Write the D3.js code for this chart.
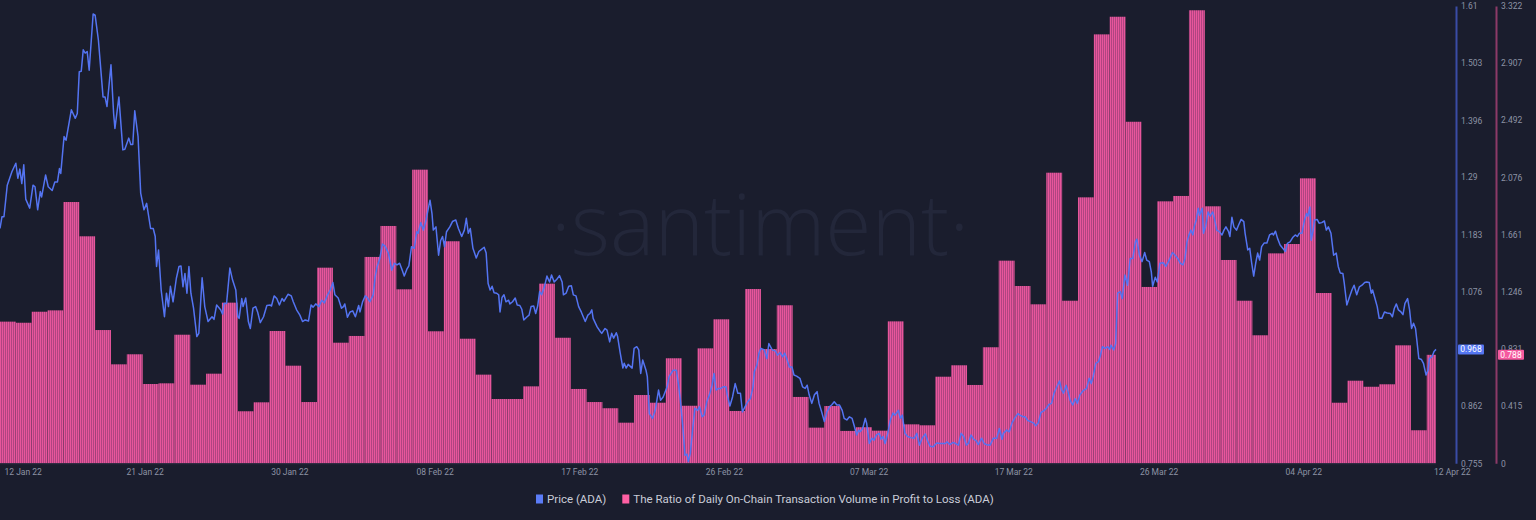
<!DOCTYPE html>
<html><head><meta charset="utf-8">
<script src="https://cdn.jsdelivr.net/npm/d3@7"></script>
<style>
html,body{margin:0;padding:0;background:#1a1d2d;}
svg{display:block;}
</style></head>
<body>
<svg id="chart" width="1536" height="520"></svg>
<script>
// ---------- DATA ----------
const startUTC = Date.UTC(2022, 0, 12, 0, 0);
const endHour = 2174;               // last data point (12 Apr 22, ~14:00)
// Daily ratio of on-chain transaction volume in profit to loss (one per day from 12 Jan 22)
const ratioValues = [
  1.029, 1.021, 1.101, 1.111, 1.898, 1.649, 0.968, 0.719, 0.792, 0.576,
  0.581, 0.934, 0.571, 0.651, 1.167, 0.378, 0.443, 0.961, 0.709, 0.445,
  1.421, 0.876, 0.925, 1.499, 1.724, 1.264, 2.133, 0.959, 1.613, 0.905,
  0.644, 0.467, 0.467, 0.559, 1.305, 0.912, 0.540, 0.445, 0.400, 0.295,
  0.496, 0.440, 0.763, 0.418, 0.835, 1.046, 0.380, 1.266, 0.830, 1.148,
  0.482, 0.259, 0.416, 0.235, 0.262, 0.237, 1.031, 0.283, 0.276, 0.629,
  0.712, 0.569, 0.843, 1.472, 1.288, 1.155, 2.111, 1.181, 1.932, 3.116,
  3.244, 2.481, 1.281, 1.903, 1.942, 3.291, 1.867, 1.477, 1.181, 0.930,
  1.525, 1.593, 2.070, 1.237, 0.440, 0.600, 0.556, 0.574, 0.857, 0.240,
  0.788
];
// Price (ADA): hours since 12 Jan 22 00:00 UTC, and value
const priceHours = [
  0,3,6,11,18,24,27,30,33,36,39,45,50,53,57,61,63,69,73,79,83,87,90,92,97,100,108,114,117,120,123,126,129,132,135,141,144,149,156,159,162,168,172,174,180,186,189,195,198,201,204,209,213,218,222,228,232,235,237,240,244,249,252,255,258,262,267,271,274,277,280,283,286,289,293,298,301,306,310,315,321,324,328,334,337,339,343,348,352,357,360,362,366,368,372,376,379,383,387,390,394,399,404,409,411,415,419,423,427,430,436,441,444,449,454,
  458,462,467,471,474,478,483,487,491,496,500,504,507,512,517,520,522,526,530,534,538,543,545,549,553,556,560,565,568,571,575,579,583,588,593,597,601,605,608,612,616,619,623,627,631,633,637,641,645,649,651,654,656,660,664,667,670,673,676,681,685,690,694,699,703,706,709,712,716,721,725,729,733,736,739,742,745,748,752,755,757,760,763,766,770,772,776,780,783,787,790,793,798,801,804,808,811,814,817,820,824,828,832,835,839,843,847,851,853,857,861,865,868,872,876,880,883,886,890,893,
  896,898,904,909,911,916,919,923,926,929,933,935,939,943,945,948,951,957,960,964,967,970,973,978,980,983,988,992,997,1000,1004,1010,1013,1019,1024,1027,1030,1034,1037,1040,1042,1045,1048,1052,1056,1059,1063,1066,1070,1074,1078,1081,1084,1088,1091,1095,1099,1101,1105,1109,1113,1117,1121,1124,1128,1132,1136,1140,1142,1146,1149,1152,1157,1161,1164,1169,1174,1177,1181,1185,1188,1191,1195,1199,1202,1206,1211,1215,1219,1222,1225,1229,1233,1237,1240,1244,1248,1252,1256,1259,1263,1267,1271,1275,1278,1282,1286,1290,1293,1297,1300,1302,1306,1310,1312,1316,1320,1323,1327,1331,
  1334,1337,1340,1344,1348,1352,1355,1360,1363,1366,1370,1374,1379,1384,1388,1392,1396,1401,1404,1408,1413,1418,1424,1431,1434,1438,1443,1448,1451,1455,1459,1463,1466,1470,1474,1478,1481,1486,1490,1495,1499,1504,1509,1513,1517,1519,1524,1528,1532,1536,1541,1544,1549,1552,1556,1560,1565,1568,1572,1576,1580,1584,1588,1592,1596,1600,1604,1607,1610,1614,1617,1620,1624,1628,1631,1635,1640,1645,1649,1652,1655,1659,1663,1666,1669,1673,1677,1680,1682,1686,1689,1692,1696,1699,1703,1707,1711,1715,1719,1721,1725,1729,1733,1736,1740,1743,1745,1749,1752,1756,1761,1765,1769,
  1775,1779,1783,1787,1791,1794,1797,1800,1803,1806,1808,1811,1814,1816,1820,1822,1825,1829,1832,1836,1839,1842,1846,1850,1853,1856,1860,1862,1865,1868,1872,1875,1879,1883,1885,1889,1892,1895,1898,1901,1904,1907,1910,1914,1918,1922,1926,1928,1931,1934,1938,1942,1946,1949,1953,1957,1961,1964,1967,1971,1975,1978,1980,1983,1985,1988,1990,1994,1997,2001,2005,2008,2011,2015,2019,2023,2026,2029,2033,2035,2039,2043,2047,2050,2054,2058,2062,2066,2069,2073,2076,2078,2081,2085,2088,2092,2096,2100,2105,2108,2111,2114,2117,2121,2124,2127,2131,2134,2137,2140,2143,2145,2148,2152,2155,2159,2162,2164,2168,2171,2174
];
const priceValues = [
  1.194,1.216,1.216,1.275,1.300,1.316,1.288,1.305,1.278,1.313,1.249,1.232,1.275,1.272,1.229,1.263,1.253,1.294,1.272,1.265,1.281,1.281,1.306,1.297,1.366,1.359,1.416,1.400,1.409,1.487,1.488,1.528,1.522,1.525,1.490,1.595,1.593,1.546,1.440,1.440,1.422,1.500,1.409,1.381,1.440,1.341,1.342,1.363,1.351,1.351,1.414,1.366,1.260,1.229,1.241,1.194,1.194,1.179,1.123,1.154,1.079,1.029,1.073,1.048,1.086,1.057,1.101,1.123,1.124,1.085,1.110,1.073,1.123,1.073,1.045,0.992,0.998,1.102,1.048,1.020,1.029,1.024,1.051,1.042,1.034,1.054,1.054,1.120,1.098,1.079,1.029,1.026,1.063,1.048,1.064,1.020,1.007,1.045,1.048,1.038,1.018,1.029,1.050,1.051,1.049,1.068,1.063,1.051,1.063,1.058,1.071,1.068,1.057,1.042,1.032,
  1.020,1.023,1.021,1.051,1.047,1.053,1.048,1.060,1.055,1.070,1.079,1.093,1.070,1.064,1.045,1.048,1.053,1.028,1.038,1.040,1.029,1.050,1.038,1.057,1.068,1.065,1.057,1.070,1.104,1.123,1.138,1.165,1.161,1.148,1.116,1.129,1.126,1.129,1.119,1.105,1.118,1.124,1.160,1.157,1.188,1.185,1.205,1.191,1.210,1.235,1.247,1.222,1.191,1.197,1.144,1.171,1.179,1.160,1.188,1.197,1.207,1.210,1.194,1.179,1.191,1.213,1.185,1.194,1.157,1.139,1.151,1.155,1.159,1.148,1.091,1.079,1.086,1.074,1.073,1.070,1.038,1.065,1.070,1.057,1.060,1.053,1.057,1.064,1.051,1.050,1.043,1.023,1.029,1.032,1.048,1.049,1.035,1.049,1.076,1.070,1.084,1.105,1.094,1.107,1.094,1.099,1.106,1.094,1.070,1.073,1.086,1.087,1.070,1.068,1.048,1.038,1.029,1.020,1.032,1.035,
  1.042,1.026,1.010,1.001,0.998,1.007,1.004,0.982,0.998,0.989,0.999,0.992,0.961,0.933,0.942,0.933,0.940,0.933,0.970,0.973,0.967,0.923,0.948,0.929,0.917,0.848,0.839,0.854,0.892,0.873,0.879,0.898,0.917,0.929,0.929,0.904,0.873,0.820,0.770,0.772,0.758,0.773,0.811,0.858,0.854,0.861,0.842,0.845,0.870,0.883,0.901,0.923,0.892,0.895,0.895,0.898,0.898,0.883,0.862,0.879,0.904,0.886,0.886,0.851,0.861,0.870,0.876,0.898,0.926,0.939,0.961,0.970,0.967,0.951,0.979,0.967,0.965,0.957,0.962,0.954,0.961,0.951,0.935,0.935,0.920,0.918,0.914,0.898,0.895,0.901,0.883,0.867,0.883,0.889,0.867,0.851,0.833,0.851,0.861,0.864,0.870,0.864,0.864,0.854,0.839,0.836,0.842,0.839,0.826,0.808,0.817,0.814,0.820,0.839,0.830,0.792,0.802,0.798,0.808,0.811,
  0.800,0.805,0.792,0.811,0.836,0.849,0.845,0.854,0.839,0.845,0.811,0.805,0.803,0.802,0.811,0.789,0.802,0.810,0.798,0.787,0.786,0.793,0.792,0.792,0.795,0.790,0.794,0.791,0.789,0.811,0.805,0.789,0.792,0.808,0.800,0.797,0.790,0.802,0.792,0.789,0.789,0.802,0.802,0.820,0.800,0.811,0.817,0.814,0.830,0.839,0.848,0.845,0.842,0.842,0.835,0.833,0.830,0.825,0.831,0.850,0.853,0.858,0.865,0.867,0.887,0.898,0.909,0.893,0.886,0.901,0.889,0.873,0.864,0.876,0.867,0.883,0.891,0.895,0.914,0.904,0.917,0.942,0.945,0.957,0.973,0.970,0.973,0.968,0.976,0.967,0.979,1.073,1.076,1.063,1.107,1.088,1.138,1.138,1.169,1.174,1.144,1.132,1.149,1.135,1.132,1.113,1.086,1.103,1.094,1.129,1.130,1.123,1.132,
  1.149,1.144,1.138,1.129,1.126,1.138,1.169,1.182,1.191,1.182,1.197,1.210,1.232,1.219,1.232,1.185,1.197,1.225,1.217,1.225,1.210,1.191,1.188,1.182,1.191,1.197,1.188,1.179,1.215,1.197,1.191,1.200,1.211,1.207,1.185,1.154,1.157,1.129,1.105,1.129,1.148,1.135,1.160,1.167,1.167,1.182,1.185,1.182,1.189,1.176,1.163,1.157,1.151,1.166,1.169,1.177,1.182,1.179,1.185,1.185,1.210,1.222,1.217,1.234,1.172,1.191,1.210,1.211,1.204,1.205,1.208,1.191,1.197,1.185,1.144,1.148,1.123,1.111,1.110,1.093,1.051,1.066,1.080,1.088,1.070,1.085,1.088,1.093,1.094,1.093,1.073,1.079,1.066,1.048,1.026,1.026,1.038,1.036,1.035,1.029,1.045,1.053,1.042,1.038,1.033,1.054,1.063,1.042,1.007,1.017,1.007,0.985,0.951,0.949,0.942,0.920,0.929,0.951,0.954,0.964,
  0.968
];
const priceTicks = [0.755, 0.862, 0.969, 1.076, 1.183, 1.29, 1.396, 1.503, 1.61];
const priceTickLabels = ["0.755","0.862","0.969","1.076","1.183","1.29","1.396","1.503","1.61"];
const ratioTicks = [0, 0.415, 0.831, 1.246, 1.661, 2.076, 2.492, 2.907, 3.322];
const ratioTickLabels = ["0","0.415","0.831","1.246","1.661","2.076","2.492","2.907","3.322"];
const xTickHours = [0, 219, 438, 658, 877, 1096, 1315, 1534, 1754, 1973, 2198];
const xTickLabels = ["12 Jan 22","21 Jan 22","30 Jan 22","08 Feb 22","17 Feb 22","26 Feb 22","07 Mar 22","17 Mar 22","26 Mar 22","04 Apr 22","12 Apr 22"];
const lastPriceLabel = "0.968";
const lastRatioLabel = "0.788";
const legendItems = [
  {name: "Price (ADA)", color: "#5b7cf7"},
  {name: "The Ratio of Daily On-Chain Transaction Volume in Profit to Loss (ADA)", color: "#ff5fa3"}
];

// ---------- CHART ----------
const HOUR = 3600 * 1000;
const hourDate = h => new Date(startUTC + h * HOUR);
const svg = d3.select("#chart");
const font = "Roboto, 'Noto Sans', sans-serif";

const x = d3.scaleUtc().domain([hourDate(0), hourDate(endHour)]).range([0, 1436]);
const yP = d3.scaleLinear().domain([0.755, 1.61]).range([463.3, 6]);
const yR = d3.scaleLinear().domain([0, 3.322]).range([463.3, 6]);

// pattern for hatched bars
const defs = svg.append("defs");
const pat = defs.append("pattern").attr("id","stripes").attr("patternUnits","userSpaceOnUse")
  .attr("width", 2).attr("height", 10);
pat.append("rect").attr("x",0).attr("y",0).attr("width",2).attr("height",10).attr("fill","#b04581");
pat.append("rect").attr("x",0).attr("y",0).attr("width",1).attr("height",10).attr("fill","#e8569c");

// watermark
svg.append("text").attr("x", 760).attr("y", 255).attr("text-anchor","middle")
  .attr("font-family","'Open Sans', Lato, sans-serif").attr("font-weight", 300)
  .attr("font-size", 84).attr("fill", "#23273a").text("·santiment·");

// bars
const bars = ratioValues.map((v, i) => ({
  start: hourDate(i * 24),
  end: hourDate(Math.min((i + 1) * 24, endHour)),
  v
}));
svg.append("g").selectAll("rect").data(bars).join("rect")
  .attr("x", d => x(d.start))
  .attr("width", d => x(d.end) - x(d.start))
  .attr("y", d => yR(d.v))
  .attr("height", d => yR(0) - yR(d.v))
  .attr("fill", "url(#stripes)");

// bottom baseline
svg.append("line").attr("x1", 0).attr("x2", 1436).attr("y1", 463.8).attr("y2", 463.8)
  .attr("stroke", "#2a2d40").attr("stroke-width", 1);

// price line
const pts = priceHours.map((h, i) => [hourDate(h), priceValues[i]]);
svg.append("path").datum(pts)
  .attr("fill", "none").attr("stroke", "#5474f2").attr("stroke-width", 1.5)
  .attr("stroke-linejoin","round")
  .attr("d", d3.line().x(d => x(d[0])).y(d => yP(d[1])));

// right axes
function styleAxis(g, color) {
  g.select(".domain").attr("stroke", color).attr("stroke-width", 2);
  g.selectAll("text").attr("fill", "#8d93a5").attr("font-family", font).attr("font-size", 8.5);
}
const gP = svg.append("g").attr("transform", "translate(1456,0)")
  .call(d3.axisRight(yP).tickValues(priceTicks).tickFormat((d,i)=>priceTickLabels[i]).tickSize(0).tickSizeOuter(0).tickPadding(5));
styleAxis(gP, "#3a4ca6");
const gR = svg.append("g").attr("transform", "translate(1496,0)")
  .call(d3.axisRight(yR).tickValues(ratioTicks).tickFormat((d,i)=>ratioTickLabels[i]).tickSize(0).tickSizeOuter(0).tickPadding(5));
styleAxis(gR, "#8c3a68");

// x axis
const gX = svg.append("g").attr("transform", "translate(0,463.3)")
  .call(d3.axisBottom(x).tickValues(xTickHours.map(hourDate)).tickFormat((d,i)=>xTickLabels[i]).tickSize(0).tickPadding(6));
gX.select(".domain").remove();
gX.selectAll("text").attr("fill", "#8d93a5").attr("font-family", font).attr("font-size", 8.5);
gX.selectAll(".tick").filter((d,i)=>i===0).select("text").attr("text-anchor","start").attr("x", 4);

// last value badges
function badge(xp, yv, label, color) {
  const g = svg.append("g").attr("transform", `translate(${xp},${yv})`);
  g.append("rect").attr("x", 0).attr("y", -5).attr("width", 26).attr("height", 10).attr("rx", 1).attr("fill", color);
  g.append("text").attr("x", 13).attr("y", 0).attr("dy", "0.35em").attr("text-anchor","middle")
    .attr("fill", "#ffffff").attr("font-family", font).attr("font-size", 8.5).text(label);
}
badge(1458, yP(+lastPriceLabel), lastPriceLabel, "#5476f2");
badge(1498, yR(+lastRatioLabel), lastRatioLabel, "#f55a9f");

// legend
const lg = svg.append("g").attr("transform", "translate(536,499)");
let lx = 0;
legendItems.forEach(it => {
  lg.append("rect").attr("x", lx).attr("y", -4.5).attr("width", 7).attr("height", 9).attr("fill", it.color);
  const t = lg.append("text").attr("x", lx + 11).attr("y", 0).attr("dy", "0.35em")
    .attr("fill", "#c9ccd8").attr("font-family", font).attr("font-size", 11.5).text(it.name);
  lx += 11 + t.node().getComputedTextLength() + 16;
});
</script>
</body></html>
